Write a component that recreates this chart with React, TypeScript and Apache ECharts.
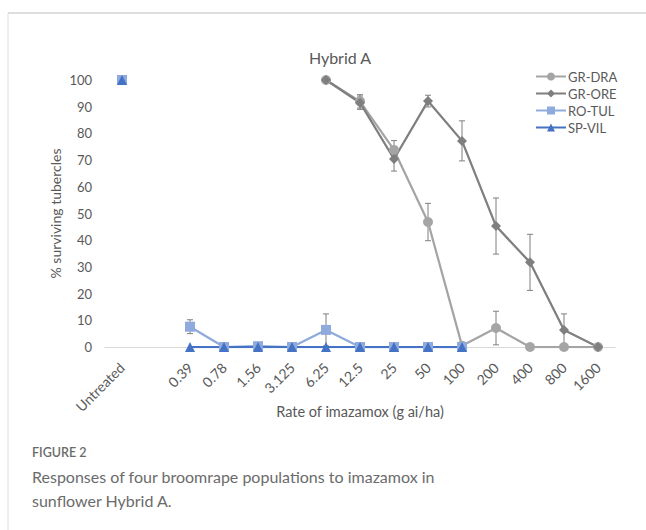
import React, { useEffect, useRef } from "react";
import * as echarts from "echarts";

const categories = ["Untreated", "", "0.39", "0.78", "1.56", "3.125", "6.25", "12.5", "25", "50", "100", "200", "400", "800", "1600"];
const grDra = [100, null, null, null, null, null, 100, 92, 73.8, 46.8, 0.5, 7.1, 0, 0, 0];
const grDraErr = [0, 0, 0, 0, 0, 0, 0, 2.5, 3.5, 7, 0, 6.3, 0, 0, 0];
const grOre = [100, null, null, null, null, null, 100, 91.5, 70.4, 92.1, 77.2, 45.3, 31.7, 6.4, 0];
const grOreErr = [0, 0, 0, 0, 0, 0, 0, 2.5, 4.5, 2.2, 7.5, 10.5, 10.5, 6, 0];
const roTul = [100, null, 7.6, 0, 0.3, 0, 6.4, 0, 0, 0, 0, null, null, null, null];
const roTulErr = [0, 0, 2.6, 0, 0, 0, 6, 0, 0, 0, 0, 0, 0, 0, 0];
const spVil = [100, null, 0, 0, 0, 0, 0, 0, 0, 0, 0, null, null, null, null];

const FONT = "Lato";
const TXT = "#595959";

function errSeries(name: string, vals: (number | null)[], errs: number[]) {
  const data: number[][] = [];
  vals.forEach((v, i) => {
    if (v !== null && errs[i] > 0) data.push([i, v, errs[i]]);
  });
  return {
    type: "custom",
    name: name + "-err",
    z: 1,
    silent: true,
    data,
    renderItem: (params: any, api: any) => {
      const x = api.value(0);
      const y = api.value(1);
      const e = api.value(2);
      const t = api.coord([x, y + e]);
      const b = api.coord([x, Math.max(0, y - e)]);
      const cw = 3;
      const st = { stroke: "#7F7F7F", lineWidth: 1 };
      return {
        type: "group",
        children: [
          { type: "line", shape: { x1: t[0], y1: t[1], x2: b[0], y2: b[1] }, style: st },
          { type: "line", shape: { x1: t[0] - cw, y1: t[1], x2: t[0] + cw, y2: t[1] }, style: st },
          { type: "line", shape: { x1: b[0] - cw, y1: b[1], x2: b[0] + cw, y2: b[1] }, style: st },
        ],
      };
    },
  };
}

function lineSeries(name: string, data: (number | null)[], color: string, symbol: string, size: number) {
  return {
    type: "line",
    name,
    data,
    z: 3,
    color,
    symbol,
    symbolSize: size,
    showAllSymbol: true,
    connectNulls: false,
    lineStyle: { color, width: 2.25 },
    itemStyle: { color },
  };
}

export default function App() {
  const ref = useRef<HTMLDivElement>(null);
  useEffect(() => {
    if (!ref.current) return;
    const chart = echarts.init(ref.current, null, { renderer: "svg" });
    chart.setOption({
      animation: false,
      textStyle: { fontFamily: FONT },
      title: {
        text: "Hybrid A",
        left: 335,
        textAlign: "center",
        top: 44,
        textStyle: { fontFamily: FONT, fontSize: 16, fontWeight: "normal", color: TXT },
      },
      legend: {
        orient: "vertical",
        left: 530,
        top: 65,
        itemWidth: 30,
        itemHeight: 10,
        itemGap: 4,
        data: ["GR-DRA", "GR-ORE", "RO-TUL", "SP-VIL"],
        textStyle: { fontFamily: FONT, fontSize: 13, color: TXT, padding: [0, 0, 0, -3] },
      },
      grid: { left: 105, right: 31, top: 80, bottom: 183, containLabel: false },
      xAxis: {
        type: "category",
        data: categories,
        boundaryGap: true,
        axisLine: { lineStyle: { color: "#D9D9D9", width: 1 } },
        axisTick: { show: false },
        axisLabel: { rotate: 45, interval: 0, color: TXT, fontSize: 14, fontFamily: FONT, margin: 18 },
        name: "Rate of imazamox (g ai/ha)",
        nameLocation: "middle",
        nameGap: 57,
        nameMoveOverlap: false,
        nameTextStyle: { color: TXT, fontSize: 14.5, fontFamily: FONT },
      },
      yAxis: {
        type: "value",
        min: 0,
        max: 100,
        interval: 10,
        splitLine: { show: false },
        axisLine: { show: false },
        axisTick: { show: false },
        axisLabel: { color: TXT, fontSize: 13, fontFamily: FONT, margin: 13 },
        name: "% surviving tubercles",
        nameLocation: "middle",
        nameGap: 43,
        nameMoveOverlap: false,
        nameTextStyle: { color: TXT, fontSize: 14, fontFamily: FONT },
      },
      series: [
        errSeries("GR-DRA", grDra, grDraErr),
        errSeries("GR-ORE", grOre, grOreErr),
        errSeries("RO-TUL", roTul, roTulErr),
        lineSeries("GR-DRA", grDra, "#A5A5A5", "circle", 10),
        lineSeries("GR-ORE", grOre, "#7F7F7F", "diamond", 10),
        lineSeries("RO-TUL", roTul, "#8FAADC", "rect", 10),
        lineSeries("SP-VIL", spVil, "#4472C4", "triangle", 10),
      ],
      graphic: [
        { type: "line", shape: { x1: 8, y1: 13, x2: 646, y2: 13 }, style: { stroke: "#DEDEDE", lineWidth: 2 } },
        { type: "line", shape: { x1: 8, y1: 13, x2: 8, y2: 530 }, style: { stroke: "#DEDEDE", lineWidth: 1 } },
        {
          type: "text",
          left: 32,
          top: 446,
          style: { text: "FIGURE 2", fontFamily: FONT, fontSize: 12.5, fill: "#6B6B6B", fontWeight: 600 },
        },
        {
          type: "text",
          left: 32,
          top: 464,
          style: {
            text: "Responses of four broomrape populations to imazamox in\nsunflower Hybrid A.",
            fontFamily: FONT,
            fontSize: 16,
            lineHeight: 24,
            fill: "#6B6B6B",
          },
        },
      ],
    });
    return () => chart.dispose();
  }, []);
  return (
    <div style={{ position: "absolute", left: 0, top: 0, width: 646, height: 530, background: "#fff" }}>
      <div ref={ref} style={{ width: 646, height: 530 }} />
    </div>
  );
}
